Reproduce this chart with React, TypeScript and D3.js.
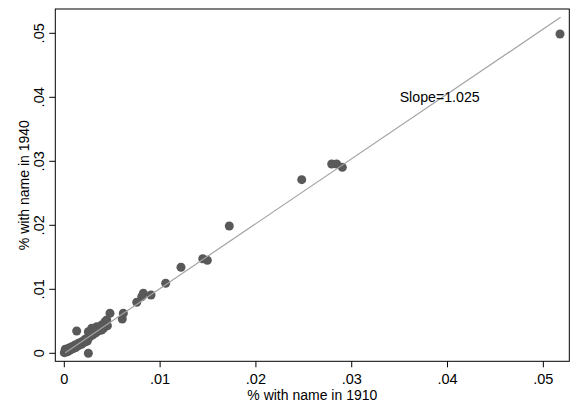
import React from "react";
import * as d3 from "d3";

// % with name in 1910 (x) and 1940 (y)
const x1910: number[] = [
  0.05174, 0.02791, 0.02843, 0.02902, 0.02478, 0.01722, 0.01445, 0.01493, 0.01218, 0.01058,
  0.00905, 0.00825, 0.00808, 0.00756, 0.00616, 0.00605, 0.00477, 0.00443, 0.00425, 0.0039,
  0.0039, 0.00338, 0.00286, 0.00251, 0.00129, 0.00234, 0.00251, 0.00182, 0.00146, 0.00112,
  0.00077, 0.00042, 0.0001, 0.0, 0.0002, 0.0004, 0.0006, 0.0009, 0.0012, 0.0015,
  0.0018, 0.0021, 0.0021, 0.0024, 0.0027, 0.003, 0.0033, 0.0036, 0.0041, 0.0045,
  0.0003, 0.0007, 0.001,
];
const y1940: number[] = [
  0.04989, 0.02958, 0.02958, 0.02906, 0.02713, 0.01989, 0.01478, 0.01453, 0.01344, 0.01094,
  0.00911, 0.00938, 0.00884, 0.00797, 0.00625, 0.00536, 0.00625, 0.0052, 0.00494, 0.00442,
  0.00364, 0.00416, 0.00391, 0.00338, 0.00348, 0.00234, 0.0, 0.00181, 0.00156, 0.0013,
  0.00103, 0.00078, 0.00063, 0.0001, 0.0002, 0.0003, 0.0005, 0.0007, 0.0009, 0.0012,
  0.0014, 0.0017, 0.0021, 0.0019, 0.0026, 0.0029, 0.0032, 0.0035, 0.0039, 0.0043,
  0.0005, 0.0009, 0.0011,
];

// fitted line end points
const fitX: number[] = [0.0001, 0.0518];
const fitY: number[] = [0.0001, 0.0525];

const xTicks: number[] = [0, 0.01, 0.02, 0.03, 0.04, 0.05];
const yTicks: number[] = [0, 0.01, 0.02, 0.03, 0.04, 0.05];
const tickLabels: string[] = ["0", ".01", ".02", ".03", ".04", ".05"];

const slopeText = "Slope=1.025";
const slopePos: number[] = [0.035, 0.04];
const xTitle = "% with name in 1910";
const yTitle = "% with name in 1940";

const W = 577;
const H = 404;
const left = 55.3;
const right = 569.3;
const top = 9;
const bottom = 361.3;
const font = "'Liberation Sans', Arial, Helvetica, sans-serif";

export default function App() {
  const x = d3.scaleLinear().domain([-0.00094, 0.05271]).range([left, right]);
  const y = d3.scaleLinear().domain([-0.00125, 0.0538]).range([bottom, top]);
  const line = d3
    .line<number>()
    .x((_, i) => x(fitX[i]))
    .y((_, i) => y(fitY[i]));

  return (
    <svg
      width={W}
      height={H}
      style={{ position: "absolute", left: 0, top: 0, background: "#fff" }}
      fontFamily={font}
    >
      <rect x={0} y={0} width={W} height={H} fill="#fff" />
      {/* points */}
      {x1910.map((v, i) => (
        <circle key={i} cx={x(v)} cy={y(y1940[i])} r={4.5} fill="#595959" />
      ))}
      {/* fit line */}
      <path d={line(fitX) || ""} fill="none" stroke="#a3a3a3" strokeWidth={1.2} />
      {/* frame */}
      <rect
        x={left}
        y={top}
        width={right - left}
        height={bottom - top}
        fill="none"
        stroke="#000"
        strokeWidth={1}
      />
      {/* x axis */}
      {xTicks.map((t, i) => (
        <g key={"xt" + i}>
          <line x1={x(t)} x2={x(t)} y1={bottom} y2={bottom + 6} stroke="#000" />
          <text x={x(t)} y={383.5} textAnchor="middle" fontSize={14.5} fill="#000">
            {tickLabels[i]}
          </text>
        </g>
      ))}
      {/* y axis */}
      {yTicks.map((t, i) => (
        <g key={"yt" + i}>
          <line x1={left - 6} x2={left} y1={y(t)} y2={y(t)} stroke="#000" />
          <text
            transform={`translate(43.5,${y(t)}) rotate(-90)`}
            textAnchor="middle"
            fontSize={14.5}
            fill="#000"
          >
            {tickLabels[i]}
          </text>
        </g>
      ))}
      <text x={(left + right) / 2} y={399.5} textAnchor="middle" fontSize={14} fill="#000">
        {xTitle}
      </text>
      <text
        transform={`translate(28.5,${(top + bottom) / 2}) rotate(-90)`}
        textAnchor="middle"
        fontSize={14}
        fill="#000"
      >
        {yTitle}
      </text>
      <text
        x={x(slopePos[0])}
        y={y(slopePos[1])}
        dy="0.36em"
        fontSize={14.2}
        fill="#000"
      >
        {slopeText}
      </text>
    </svg>
  );
}
